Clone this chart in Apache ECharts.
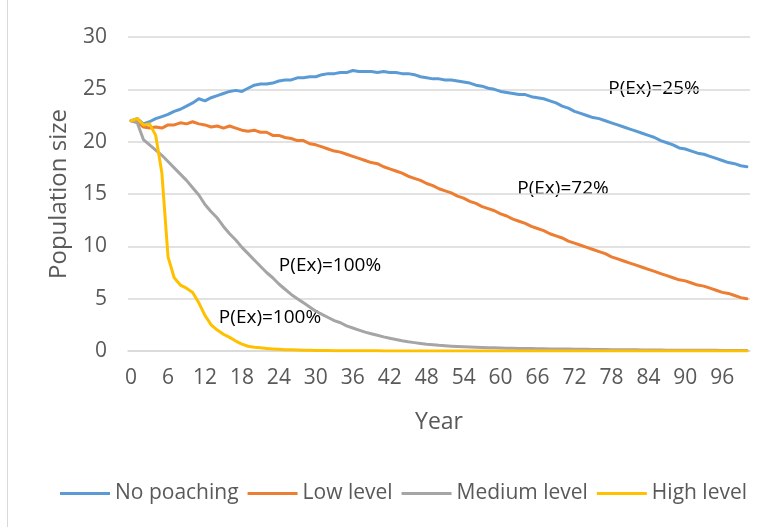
<!DOCTYPE html>
<html>
<head>
<meta charset="utf-8">
<script src="https://cdn.jsdelivr.net/npm/echarts@6/dist/echarts.min.js"></script>
<style>
  html, body { margin: 0; padding: 0; background: #fff; }
  #chart { width: 779px; height: 527px; }
</style>
</head>
<body>
<div id="chart"></div>
<script>
// Simulated population size per year under four poaching scenarios
const years = Array.from({ length: 101 }, (_, i) => String(i));

const noPoaching = [
  22.0, 22.2, 21.7, 21.9, 22.2, 22.4, 22.6, 22.9, 23.1, 23.4,
  23.7, 24.1, 23.9, 24.2, 24.4, 24.6, 24.8, 24.9, 24.8, 25.1,
  25.4, 25.5, 25.5, 25.6, 25.8, 25.9, 25.9, 26.1, 26.1, 26.2,
  26.2, 26.4, 26.5, 26.5, 26.6, 26.6, 26.8, 26.7, 26.7, 26.7,
  26.6, 26.7, 26.6, 26.6, 26.5, 26.5, 26.4, 26.2, 26.1, 26.0,
  26.0, 25.9, 25.9, 25.8, 25.7, 25.6, 25.4, 25.3, 25.1, 25.0,
  24.8, 24.7, 24.6, 24.5, 24.5, 24.3, 24.2, 24.1, 23.9, 23.7,
  23.4, 23.2, 22.9, 22.7, 22.5, 22.3, 22.2, 22.0, 21.8, 21.6,
  21.4, 21.2, 21.0, 20.8, 20.6, 20.4, 20.1, 19.9, 19.7, 19.4,
  19.3, 19.1, 18.9, 18.8, 18.6, 18.4, 18.2, 18.0, 17.9, 17.7,
  17.6
];

const lowLevel = [
  22.0, 21.9, 21.4, 21.3, 21.4, 21.3, 21.6, 21.6, 21.8, 21.7,
  21.9, 21.7, 21.6, 21.4, 21.5, 21.3, 21.5, 21.3, 21.1, 21.0,
  21.1, 20.9, 20.9, 20.6, 20.6, 20.4, 20.3, 20.1, 20.1, 19.8,
  19.7, 19.5, 19.3, 19.1, 19.0, 18.8, 18.6, 18.4, 18.2, 18.0,
  17.9, 17.6, 17.4, 17.2, 17.0, 16.7, 16.5, 16.3, 16.0, 15.8,
  15.5, 15.3, 15.1, 14.8, 14.6, 14.3, 14.1, 13.8, 13.6, 13.4,
  13.1, 12.9, 12.6, 12.4, 12.2, 11.9, 11.7, 11.5, 11.2, 11.0,
  10.8, 10.5, 10.3, 10.1, 9.9, 9.7, 9.5, 9.3, 9.0, 8.8,
  8.6, 8.4, 8.2, 8.0, 7.8, 7.6, 7.4, 7.2, 7.0, 6.8,
  6.7, 6.5, 6.3, 6.2, 6.0, 5.8, 5.6, 5.5, 5.3, 5.1,
  5.0
];

const mediumLevel = [
  22.0, 21.8, 20.2, 19.7, 19.2, 18.7, 18.1, 17.5, 16.9, 16.3,
  15.6, 14.9, 14.0, 13.3, 12.7, 11.9, 11.2, 10.6, 9.9, 9.3,
  8.7, 8.1, 7.5, 7.0, 6.4, 5.9, 5.4, 5.0, 4.6, 4.2,
  3.8, 3.5, 3.2, 2.9, 2.7, 2.4, 2.2, 2.0, 1.8, 1.65,
  1.5, 1.35, 1.22, 1.1, 0.98, 0.88, 0.8, 0.72, 0.65, 0.6,
  0.54, 0.5, 0.46, 0.43, 0.4, 0.38, 0.36, 0.34, 0.32, 0.3,
  0.28, 0.27, 0.26, 0.25, 0.24, 0.23, 0.22, 0.21, 0.2, 0.19,
  0.18, 0.18, 0.17, 0.16, 0.16, 0.15, 0.14, 0.14, 0.13, 0.12,
  0.12, 0.11, 0.11, 0.10, 0.10, 0.09, 0.09, 0.08, 0.08, 0.08,
  0.07, 0.07, 0.07, 0.06, 0.06, 0.06, 0.05, 0.05, 0.05, 0.05,
  0.04
];

const highLevel = [
  22.0, 22.2, 21.6, 21.7, 20.6, 17.0, 9.0, 7.0, 6.3, 6.0,
  5.6, 4.6, 3.4, 2.5, 2.0, 1.6, 1.3, 0.95, 0.65, 0.45,
  0.35, 0.3, 0.25, 0.2, 0.16, 0.13, 0.11, 0.09, 0.07, 0.06,
  0.05, 0.04, 0.04, 0.03, 0.03, 0.03, 0.02, 0.02, 0.02, 0.02,
  0.02, 0.01, 0.01, 0.01, 0.01, 0.01, 0.01, 0.01, 0.01, 0.01,
  0.01, 0.01, 0.01, 0.01, 0.01, 0.0, 0.0, 0.0, 0.0, 0.0,
  0.0, 0.0, 0.0, 0.0, 0.0, 0.0, 0.0, 0.0, 0.0, 0.0,
  0.0, 0.0, 0.0, 0.0, 0.0, 0.0, 0.0, 0.0, 0.0, 0.0,
  0.0, 0.0, 0.0, 0.0, 0.0, 0.0, 0.0, 0.0, 0.0, 0.0,
  0.0, 0.0, 0.0, 0.0, 0.0, 0.0, 0.0, 0.0, 0.0, 0.0,
  0.0
];

const seriesNames = ['No poaching', 'Low level', 'Medium level', 'High level'];
const seriesColors = ['#5B9BD5', '#ED7D31', '#A5A5A5', '#FFC000'];
const seriesData = [noPoaching, lowLevel, mediumLevel, highLevel];

// Extinction-probability annotations placed next to each curve
const annotations = [
  { text: 'P(Ex)=25%', x: 654, y: 89 },
  { text: 'P(Ex)=72%', x: 563, y: 189 },
  { text: 'P(Ex)=100%', x: 330, y: 266 },
  { text: 'P(Ex)=100%', x: 270, y: 318 }
];

const FONT = '"Open Sans", "Noto Sans", sans-serif';
const chart = echarts.init(document.getElementById('chart'), null, { renderer: 'canvas' });

chart.setOption({
  backgroundColor: '#ffffff',
  animation: false,
  textStyle: { fontFamily: FONT },
  grid: { left: 128, right: 29, top: 37, bottom: 176, containLabel: false },
  legend: {
    data: seriesNames,
    left: 55,
    top: 478,
    icon: 'rect',
    itemWidth: 50,
    itemHeight: 3,
    itemGap: 9,
    textStyle: { fontFamily: FONT, fontSize: 21, color: '#595959' }
  },
  xAxis: {
    type: 'category',
    data: years,
    boundaryGap: true,
    name: 'Year',
    nameLocation: 'middle',
    nameGap: 60,
    nameTextStyle: { fontFamily: FONT, fontSize: 23, color: '#595959' },
    axisLine: { show: true, lineStyle: { color: '#d9d9d9', width: 1.5 } },
    axisTick: { show: false },
    axisLabel: { interval: 5, margin: 17, fontFamily: FONT, fontSize: 21, color: '#595959' },
    splitLine: { show: false }
  },
  yAxis: {
    type: 'value',
    min: 0,
    max: 30,
    interval: 5,
    name: 'Population size',
    nameLocation: 'middle',
    nameGap: 57,
    nameRotate: 90,
    nameTextStyle: { fontFamily: FONT, fontSize: 24, color: '#595959' },
    axisLine: { show: false },
    axisTick: { show: false },
    axisLabel: { margin: 21, fontFamily: FONT, fontSize: 21, color: '#595959' },
    splitLine: { lineStyle: { color: '#d9d9d9', width: 1.5 } }
  },
  series: seriesNames.map((name, i) => ({
    name: name,
    type: 'line',
    data: seriesData[i],
    symbol: 'none',
    smooth: false,
    color: seriesColors[i],
    lineStyle: { color: seriesColors[i], width: 3, cap: 'round', join: 'round' }
  })),
  graphic: [
    {
      type: 'line',
      shape: { x1: 7.5, y1: 0, x2: 7.5, y2: 527 },
      style: { stroke: '#d9d9d9', lineWidth: 1 },
      silent: true
    }
  ].concat(annotations.map(a => ({
    type: 'text',
    x: a.x,
    y: a.y,
    style: {
      text: a.text,
      fill: '#000000',
      font: '19px ' + FONT,
      textAlign: 'center',
      textVerticalAlign: 'middle'
    },
    silent: true
  })))
});
</script>
</body>
</html>
